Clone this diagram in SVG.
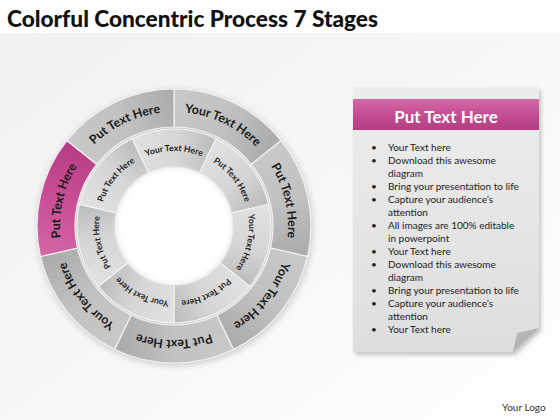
<svg xmlns="http://www.w3.org/2000/svg" xmlns:xlink="http://www.w3.org/1999/xlink" width="560" height="420" viewBox="0 0 560 420">
<style>
.title{font-family:Lato,"Liberation Sans",sans-serif;font-weight:900;font-size:23px;fill:#111}
.to{font-family:Lato,"Liberation Sans",sans-serif;font-weight:bold;font-size:12.3px;fill:#1a1a1a;text-anchor:middle}
.ti{font-family:Lato,"Liberation Sans",sans-serif;font-weight:bold;font-size:8.6px;fill:#222;text-anchor:middle}
.hd{font-family:Lato,"Liberation Sans",sans-serif;font-weight:bold;font-size:17px;fill:#fff;text-anchor:middle}
.bl{font-family:Lato,"Liberation Sans",sans-serif;font-size:10px;fill:#222}
.logo{font-family:Lato,"Liberation Sans",sans-serif;font-size:10px;fill:#333}
.seg{stroke:#f2f2f2;stroke-width:1.2}
</style>
<defs>
<linearGradient id="bg" x1="0" y1="0" x2="1" y2="1">
<stop offset="0" stop-color="#f1f1f1"/><stop offset="0.5" stop-color="#f7f7f7"/><stop offset="1" stop-color="#ffffff"/>
</linearGradient>
<linearGradient id="gO" x1="0" y1="0" x2="1" y2="0">
<stop offset="0" stop-color="#c9c9c9"/><stop offset="0.5" stop-color="#c1c1c1"/><stop offset="1" stop-color="#aaaaaa"/>
</linearGradient>
<linearGradient id="gI" x1="0" y1="0" x2="1" y2="0">
<stop offset="0" stop-color="#e2e2e2"/><stop offset="0.55" stop-color="#d6d6d6"/><stop offset="1" stop-color="#bbbbbb"/>
</linearGradient>
<linearGradient id="gP" x1="0" y1="0" x2="1" y2="0">
<stop offset="0" stop-color="#d566a6"/><stop offset="0.5" stop-color="#c84e95"/><stop offset="1" stop-color="#b73c83"/>
</linearGradient>
<linearGradient id="gH" x1="0" y1="0" x2="0" y2="1">
<stop offset="0" stop-color="#d46aa8"/><stop offset="0.5" stop-color="#c54d92"/><stop offset="1" stop-color="#b23e80"/>
</linearGradient>
<linearGradient id="gPanel" x1="0" y1="0" x2="0" y2="1">
<stop offset="0" stop-color="#ededed"/><stop offset="1" stop-color="#dedede"/>
</linearGradient>
<linearGradient id="gFold" x1="0" y1="0" x2="1" y2="1">
<stop offset="0" stop-color="#c4c4c4"/><stop offset="1" stop-color="#9e9e9e"/>
</linearGradient>
<filter id="blur" x="-20%" y="-20%" width="140%" height="140%"><feGaussianBlur stdDeviation="3"/></filter>
<filter id="blur2" x="-20%" y="-20%" width="140%" height="140%"><feGaussianBlur stdDeviation="2"/></filter>
<path id="segO" d="M -59.44 -123.43 A 137 137 0 0 1 59.44 -123.43 L 42.96 -89.20 A 99 99 0 0 0 -42.96 -89.20 Z"/>
<path id="segI" d="M -42.09 -87.40 A 97 97 0 0 1 42.09 -87.40 L 25.60 -53.16 A 59 59 0 0 0 -25.60 -53.16 Z"/>
<path id="arcO" d="M -49.46 -102.71 A 114 114 0 0 1 49.46 -102.71" fill="none"/>
<path id="arcI" d="M -32.54 -67.57 A 75 75 0 0 1 32.54 -67.57" fill="none"/>
</defs>

<rect x="0" y="0" width="560" height="420" fill="url(#bg)"/>
<rect x="0" y="0" width="560" height="33" fill="#ffffff"/>
<text class="title" x="7" y="27" textLength="371" lengthAdjust="spacingAndGlyphs">Colorful Concentric Process 7 Stages</text>

<circle cx="175" cy="228" r="138" fill="#9a9a9a" opacity="0.45" filter="url(#blur)"/>

<g id="outer-1" transform="translate(174,226) rotate(25.71)"><use href="#segO" class="seg" fill="url(#gO)"/><text class="to"><textPath href="#arcO" startOffset="50%">Your Text Here</textPath></text></g>
<g id="outer-2" transform="translate(174,226) rotate(77.14)"><use href="#segO" class="seg" fill="url(#gO)"/><text class="to"><textPath href="#arcO" startOffset="50%">Put Text Here</textPath></text></g>
<g id="outer-3" transform="translate(174,226) rotate(128.57)"><use href="#segO" class="seg" fill="url(#gO)"/><text class="to"><textPath href="#arcO" startOffset="50%">Your Text Here</textPath></text></g>
<g id="outer-4" transform="translate(174,226) rotate(180)"><use href="#segO" class="seg" fill="url(#gO)"/><text class="to"><textPath href="#arcO" startOffset="50%">Put Text Here</textPath></text></g>
<g id="outer-5" transform="translate(174,226) rotate(231.43)"><use href="#segO" class="seg" fill="url(#gO)"/><text class="to"><textPath href="#arcO" startOffset="50%">Your Text Here</textPath></text></g>
<g id="outer-6" transform="translate(174,226) rotate(282.86)"><use href="#segO" class="seg" fill="url(#gP)"/><text class="to"><textPath href="#arcO" startOffset="50%">Put Text Here</textPath></text></g>
<g id="outer-7" transform="translate(174,226) rotate(334.29)"><use href="#segO" class="seg" fill="url(#gO)"/><text class="to"><textPath href="#arcO" startOffset="50%">Put Text Here</textPath></text></g>

<g id="inner-1" transform="translate(174,226) rotate(0)"><use href="#segI" class="seg" fill="url(#gI)"/><text class="ti"><textPath href="#arcI" startOffset="50%">Your Text Here</textPath></text></g>
<g id="inner-2" transform="translate(174,226) rotate(51.43)"><use href="#segI" class="seg" fill="url(#gI)"/><text class="ti"><textPath href="#arcI" startOffset="50%">Put Text Here</textPath></text></g>
<g id="inner-3" transform="translate(174,226) rotate(102.86)"><use href="#segI" class="seg" fill="url(#gI)"/><text class="ti"><textPath href="#arcI" startOffset="50%">Your Text Here</textPath></text></g>
<g id="inner-4" transform="translate(174,226) rotate(154.29)"><use href="#segI" class="seg" fill="url(#gI)"/><text class="ti"><textPath href="#arcI" startOffset="50%">Put Text Here</textPath></text></g>
<g id="inner-5" transform="translate(174,226) rotate(205.71)"><use href="#segI" class="seg" fill="url(#gI)"/><text class="ti"><textPath href="#arcI" startOffset="50%">Your Text Here</textPath></text></g>
<g id="inner-6" transform="translate(174,226) rotate(257.14)"><use href="#segI" class="seg" fill="url(#gI)"/><text class="ti"><textPath href="#arcI" startOffset="50%">Put Text Here</textPath></text></g>
<g id="inner-7" transform="translate(174,226) rotate(308.57)"><use href="#segI" class="seg" fill="url(#gI)"/><text class="ti"><textPath href="#arcI" startOffset="50%">Put Text Here</textPath></text></g>

<circle cx="174" cy="226" r="58.5" fill="#ffffff"/>
<circle cx="174" cy="226" r="58" fill="none" stroke="#dcdcdc" stroke-width="1.5" filter="url(#blur2)"/>

<g id="panel">
<path d="M 355 90 L 541 90 L 541 331 L 515 355 L 355 355 Z" fill="#8a8a8a" opacity="0.5" filter="url(#blur2)"/>
<path d="M 353 87 L 539 87 L 539 328 L 513 352 L 353 352 Z" fill="url(#gPanel)"/>
<path d="M 539 328 L 517 333 L 513 352 Z" fill="url(#gFold)"/>
<rect x="353" y="99" width="186" height="31" fill="url(#gH)"/>
<text class="hd" x="446" y="123">Put Text Here</text>
<g class="bl">
<text x="371" y="151">•</text><text x="388" y="151">Your Text here</text>
<text x="371" y="164">•</text><text x="388" y="164">Download this awesome</text>
<text x="388" y="177">diagram</text>
<text x="371" y="190">•</text><text x="388" y="190">Bring your presentation to life</text>
<text x="371" y="203">•</text><text x="388" y="203">Capture your audience’s</text>
<text x="388" y="216">attention</text>
<text x="371" y="229">•</text><text x="388" y="229">All images are 100% editable</text>
<text x="388" y="242">in powerpoint</text>
<text x="371" y="255">•</text><text x="388" y="255">Your Text here</text>
<text x="371" y="268">•</text><text x="388" y="268">Download this awesome</text>
<text x="388" y="281">diagram</text>
<text x="371" y="294">•</text><text x="388" y="294">Bring your presentation to life</text>
<text x="371" y="307">•</text><text x="388" y="307">Capture your audience’s</text>
<text x="388" y="320">attention</text>
<text x="371" y="333">•</text><text x="388" y="333">Your Text here</text>
</g>
</g>

<text class="logo" x="502" y="411">Your Logo</text>
</svg>
